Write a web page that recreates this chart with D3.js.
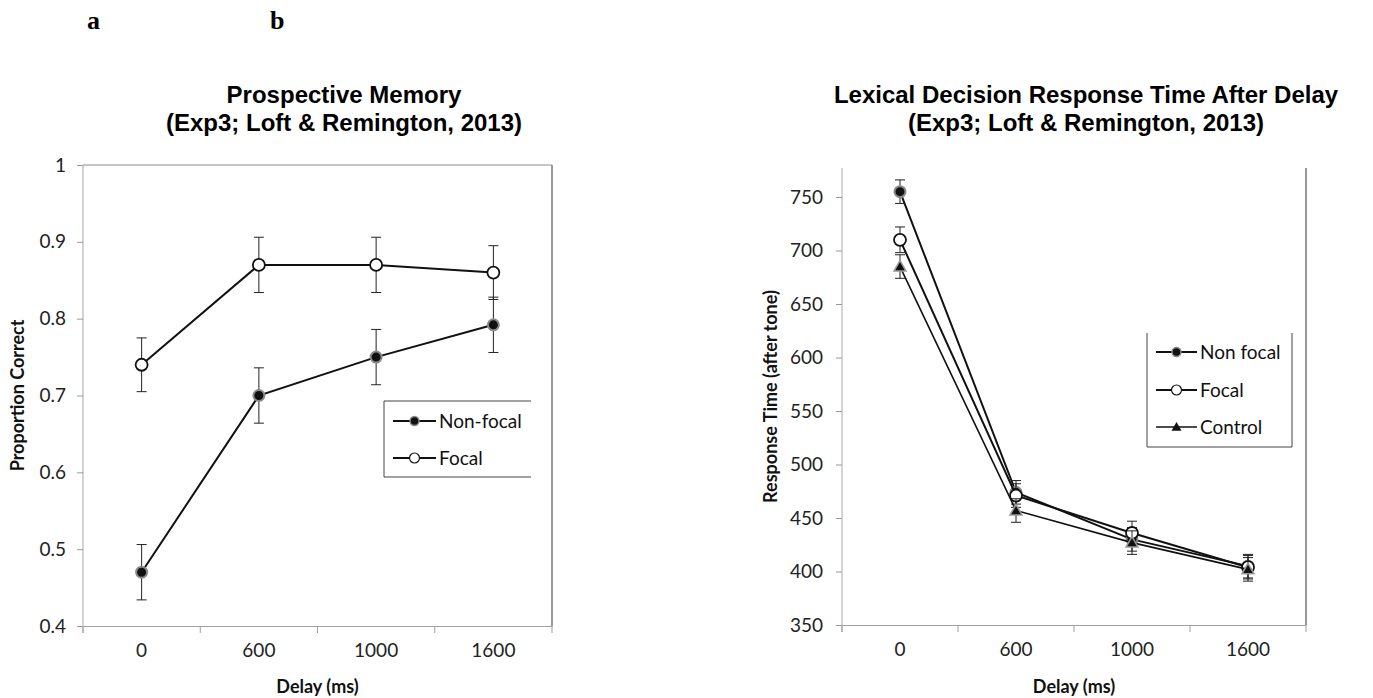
<!DOCTYPE html>
<html>
<head>
<meta charset="utf-8">
<script src="https://cdn.jsdelivr.net/npm/d3@7"></script>
<style>
    body { margin: 0; background: #fff; }
    .tick text { font-family: Lato, "Open Sans", sans-serif; font-size: 19px; fill: #222; }
    .title { font-family: "Liberation Sans", Arial, sans-serif; font-weight: bold; font-size: 24px; fill: #000; }
    .axis-title { font-family: Lato, sans-serif; font-weight: bold; font-size: 18px; fill: #111; }
    .legend text { font-family: Lato, sans-serif; font-size: 19px; fill: #111; }
    .panel { font-family: "Liberation Serif", serif; font-weight: bold; font-size: 26px; }
</style>
</head>
<body>
<div id="graph"></div>
<script>
/*
    Data
*/
var delays = ["0", "600", "1000", "1600"]

// panel a: prospective memory, proportion correct
var pmTicks = [0.4, 0.5, 0.6, 0.7, 0.8, 0.9, 1]
var pmTickLabels = ["0.4", "0.5", "0.6", "0.7", "0.8", "0.9", "1"]
var pmNonFocal = [0.47, 0.70, 0.75, 0.792]
var pmNonFocalErr = [0.036, 0.036, 0.036, 0.036]
var pmFocal = [0.74, 0.87, 0.87, 0.86]
var pmFocalErr = [0.035, 0.036, 0.036, 0.035]

// panel b: lexical decision response time
var rtTicks = [350, 400, 450, 500, 550, 600, 650, 700, 750]
var rtNonFocal = [755, 474, 430, 405]
var rtNonFocalErr = [11, 11, 11, 11]
var rtFocal = [710, 471, 436, 404]
var rtFocalErr = [12, 11, 11, 11]
var rtControl = [685, 457, 427, 402]
var rtControlErr = [11, 11, 11, 11]

var svg = d3.select("#graph").append("svg")
    .attr("width", 1373)
    .attr("height", 698)

svg.append("text").attr("class", "panel").attr("x", 87).attr("y", 29).text("a")
svg.append("text").attr("class", "panel").attr("x", 270).attr("y", 29).text("b")

/*
    Marker helpers
*/
function drawMarker(g, kind, x, y, big) {
    if (kind == "filled") {
        g.append("circle").attr("cx", x).attr("cy", y).attr("r", big ? 5.5 : 4.5)
            .attr("fill", "#111").attr("stroke", "#8a8a8a").attr("stroke-width", big ? 2 : 1.5)
    } else if (kind == "open") {
        g.append("circle").attr("cx", x).attr("cy", y).attr("r", big ? 6 : 5)
            .attr("fill", "#fff").attr("stroke", "#111").attr("stroke-width", big ? 1.8 : 1.2)
    } else {
        var s = big ? 6 : 5
        g.append("path")
            .attr("d", "M" + x + "," + (y - s) + "L" + (x + s) + "," + (y + s * 0.75) + "L" + (x - s) + "," + (y + s * 0.75) + "Z")
            .attr("fill", "#111").attr("stroke", big ? "#999" : "none").attr("stroke-width", 1.5)
    }
}

function plotPanel(opts) {
    var x = d3.scaleBand().domain(delays).range([opts.left, opts.right])
    var y = d3.scaleLinear().domain(opts.domain).range([opts.bottom, opts.yTop])

    var g = svg.append("g")

    // frame
    g.append("line").attr("x1", opts.left).attr("x2", opts.left)
        .attr("y1", opts.frameTop).attr("y2", opts.bottom + 7).attr("stroke", "#a8a8a8")
    g.append("line").attr("x1", opts.right).attr("x2", opts.right)
        .attr("y1", opts.frameTop).attr("y2", opts.bottom).attr("stroke", "#333")
    if (opts.topBorder) {
        g.append("line").attr("x1", opts.left).attr("x2", opts.right)
            .attr("y1", opts.frameTop).attr("y2", opts.frameTop).attr("stroke", "#8a8a8a")
    }

    // y axis
    var yAxis = g.append("g")
        .attr("transform", "translate(" + opts.left + ",0)")
        .call(d3.axisLeft(y).tickValues(opts.ticks).tickSize(6).tickPadding(opts.yPad)
            .tickFormat(function (d, i) { return opts.tickLabels[i] }))
    yAxis.select(".domain").remove()
    yAxis.selectAll(".tick line").attr("stroke", "#999")

    // x axis: labels at band centres, ticks at band edges
    var xAxis = g.append("g")
        .attr("transform", "translate(0," + opts.bottom + ")")
        .call(d3.axisBottom(x).tickSize(0).tickPadding(18))
    xAxis.select(".domain").attr("stroke", "#a0a0a0")
    var edges = delays.map(function (d) { return x(d) }).concat([x.range()[1]])
    g.selectAll(".xedge").data(edges).enter().append("line")
        .attr("x1", function (d) { return d }).attr("x2", function (d) { return d })
        .attr("y1", opts.bottom).attr("y2", opts.bottom + 7).attr("stroke", "#a0a0a0")

    // series
    var cx = function (i) { return x(delays[i]) + x.bandwidth() / 2 }
    opts.series.forEach(function (s) {
        var line = d3.line()
            .x(function (d, i) { return cx(i) })
            .y(function (d) { return y(d) })
        g.append("path").attr("d", line(s.values))
            .attr("fill", "none").attr("stroke", "#111").attr("stroke-width", s.width)

        s.values.forEach(function (v, i) {
            var e = s.err[i]
            g.append("line").attr("x1", cx(i)).attr("x2", cx(i))
                .attr("y1", y(v + e)).attr("y2", y(v - e)).attr("stroke", "#222")
            g.append("line").attr("x1", cx(i) - 5).attr("x2", cx(i) + 5)
                .attr("y1", y(v + e)).attr("y2", y(v + e)).attr("stroke", "#222")
            g.append("line").attr("x1", cx(i) - 5).attr("x2", cx(i) + 5)
                .attr("y1", y(v - e)).attr("y2", y(v - e)).attr("stroke", "#222")
        })
        s.values.forEach(function (v, i) {
            drawMarker(g, s.marker, cx(i), y(v), true)
        })
    })

    // titles
    var tc = opts.titleX
    g.append("text").attr("class", "title").attr("text-anchor", "middle")
        .attr("x", tc).attr("y", 103).text(opts.title[0])
    g.append("text").attr("class", "title").attr("text-anchor", "middle")
        .attr("x", tc).attr("y", 131).text(opts.title[1])

    g.append("text").attr("class", "axis-title").attr("text-anchor", "middle")
        .attr("x", (opts.left + opts.right) / 2).attr("y", 693).text("Delay (ms)")
    g.append("text").attr("class", "axis-title").attr("text-anchor", "middle")
        .attr("transform", "translate(" + opts.yTitleX + "," + (opts.frameTop + opts.bottom) / 2 + ") rotate(-90)")
        .text(opts.yTitle)

    // legend
    var lg = g.append("g").attr("class", "legend")
    lg.append("path").attr("d", opts.legend.border).attr("fill", "none").attr("stroke", "#444")
    opts.series.forEach(function (s, i) {
        var ly = opts.legend.rows[i]
        lg.append("line").attr("x1", opts.legend.lx[0]).attr("x2", opts.legend.lx[1])
            .attr("y1", ly).attr("y2", ly).attr("stroke", "#111").attr("stroke-width", s.width)
        drawMarker(lg, s.marker, (opts.legend.lx[0] + opts.legend.lx[1]) / 2, ly, false)
        lg.append("text").attr("x", opts.legend.lx[1] + 3).attr("y", ly + 7).text(s.name)
    })
}

/*
    Panel a
*/
plotPanel({
    left: 83, right: 552, bottom: 626, yTop: 165, frameTop: 165, topBorder: true,
    domain: [0.4, 1], ticks: pmTicks, tickLabels: pmTickLabels, yPad: 11,
    title: ["Prospective Memory", "(Exp3; Loft & Remington, 2013)"], titleX: 344,
    yTitle: "Proportion Correct", yTitleX: 24,
    series: [
        {name: "Non-focal", values: pmNonFocal, err: pmNonFocalErr, marker: "filled", width: 2},
        {name: "Focal", values: pmFocal, err: pmFocalErr, marker: "open", width: 2}
    ],
    legend: {
        border: "M531,401H384V477H531",
        rows: [421, 458], lx: [393, 436]
    }
})

/*
    Panel b
*/
plotPanel({
    left: 842, right: 1306, bottom: 625, yTop: 197, frameTop: 168, topBorder: false,
    domain: [350, 750], ticks: rtTicks, tickLabels: rtTicks.map(String), yPad: 13,
    title: ["Lexical Decision Response Time After Delay", "(Exp3; Loft & Remington, 2013)"], titleX: 1086,
    yTitle: "Response Time (after tone)", yTitleX: 777,
    series: [
        {name: "Non focal", values: rtNonFocal, err: rtNonFocalErr, marker: "filled", width: 2},
        {name: "Focal", values: rtFocal, err: rtFocalErr, marker: "open", width: 2},
        {name: "Control", values: rtControl, err: rtControlErr, marker: "tri", width: 1.6}
    ],
    legend: {
        border: "M1147,333V447H1292V333",
        rows: [352, 390, 427], lx: [1156, 1197]
    }
})
</script>
</body>
</html>
